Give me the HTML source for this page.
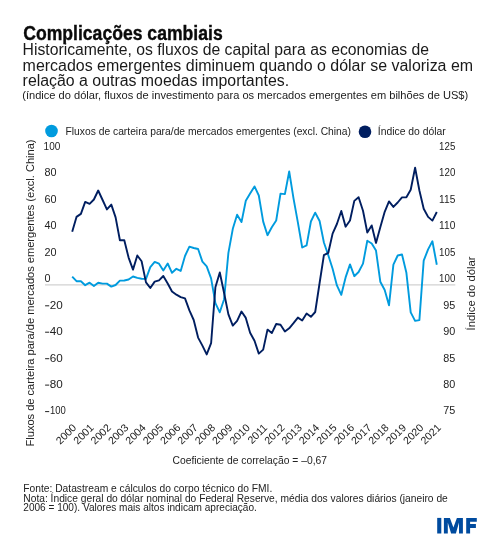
<!DOCTYPE html>
<html><head><meta charset="utf-8"><style>
html,body{margin:0;padding:0;background:#fff;width:500px;height:542px;overflow:hidden}
svg{display:block;will-change:transform}
text{font-family:"Liberation Sans", sans-serif}
</style></head><body>
<svg width="500" height="542" viewBox="0 0 500 542">
<text x="23.2" y="39.7" font-size="19.5" textLength="199.5" lengthAdjust="spacingAndGlyphs" font-weight="bold" fill="#0a0a0a" stroke="#0a0a0a" stroke-width="0.35">Complicações cambiais</text>
<text x="22.6" y="54.9" font-size="16" textLength="406.5" lengthAdjust="spacingAndGlyphs" fill="#1a1a1a" >Historicamente, os fluxos de capital para as economias de</text>
<text x="22.6" y="70.8" font-size="16" textLength="450.5" lengthAdjust="spacingAndGlyphs" fill="#1a1a1a" >mercados emergentes diminuem quando o dólar se valoriza em</text>
<text x="22.6" y="85.8" font-size="16" textLength="266.5" lengthAdjust="spacingAndGlyphs" fill="#1a1a1a" >relação a outras moedas importantes.</text>
<text x="22.2" y="98.6" font-size="10.5" textLength="446" lengthAdjust="spacingAndGlyphs" fill="#1a1a1a" >(índice do dólar, fluxos de investimento para os mercados emergentes em bilhões de US$)</text>
<circle cx="51.5" cy="131" r="6.3" fill="#009BDE"/>
<text x="65.5" y="135.2" font-size="11" textLength="285.5" lengthAdjust="spacingAndGlyphs" fill="#222" >Fluxos de carteira para/de mercados emergentes (excl. China)</text>
<circle cx="365" cy="131.8" r="6.3" fill="#001E60"/>
<text x="377.8" y="135.2" font-size="11" textLength="68" lengthAdjust="spacingAndGlyphs" fill="#222" >Índice do dólar</text>
<text x="43.6" y="149.8" font-size="10.8" textLength="16.7" lengthAdjust="spacingAndGlyphs" fill="#222" >100</text>
<text x="455.3" y="149.8" font-size="10.8" textLength="16.2" lengthAdjust="spacingAndGlyphs" text-anchor="end" fill="#222" >125</text>
<text x="44.5" y="176.3" font-size="10.8" fill="#222" >80</text>
<text x="455.3" y="176.3" font-size="10.8" textLength="16.2" lengthAdjust="spacingAndGlyphs" text-anchor="end" fill="#222" >120</text>
<text x="44.5" y="202.7" font-size="10.8" fill="#222" >60</text>
<text x="455.3" y="202.7" font-size="10.8" textLength="16.2" lengthAdjust="spacingAndGlyphs" text-anchor="end" fill="#222" >115</text>
<text x="44.5" y="229.2" font-size="10.8" fill="#222" >40</text>
<text x="455.3" y="229.2" font-size="10.8" textLength="16.2" lengthAdjust="spacingAndGlyphs" text-anchor="end" fill="#222" >110</text>
<text x="44.5" y="255.6" font-size="10.8" fill="#222" >20</text>
<text x="455.3" y="255.6" font-size="10.8" textLength="16.2" lengthAdjust="spacingAndGlyphs" text-anchor="end" fill="#222" >105</text>
<text x="44.5" y="282.1" font-size="10.8" fill="#222" >0</text>
<text x="455.3" y="282.1" font-size="10.8" textLength="16.2" lengthAdjust="spacingAndGlyphs" text-anchor="end" fill="#222" >100</text>
<rect x="45.1" y="305.3" width="4.1" height="1.0" fill="#222"/>
<text x="49.8" y="308.6" font-size="10.8" textLength="13.0" lengthAdjust="spacingAndGlyphs" fill="#222" >20</text>
<text x="455.3" y="308.6" font-size="10.8" text-anchor="end" fill="#222" >95</text>
<rect x="45.1" y="331.7" width="4.1" height="1.0" fill="#222"/>
<text x="49.8" y="335.0" font-size="10.8" textLength="13.0" lengthAdjust="spacingAndGlyphs" fill="#222" >40</text>
<text x="455.3" y="335.0" font-size="10.8" text-anchor="end" fill="#222" >90</text>
<rect x="45.1" y="358.2" width="4.1" height="1.0" fill="#222"/>
<text x="49.8" y="361.5" font-size="10.8" textLength="13.0" lengthAdjust="spacingAndGlyphs" fill="#222" >60</text>
<text x="455.3" y="361.5" font-size="10.8" text-anchor="end" fill="#222" >85</text>
<rect x="45.1" y="384.6" width="4.1" height="1.0" fill="#222"/>
<text x="49.8" y="387.9" font-size="10.8" textLength="13.0" lengthAdjust="spacingAndGlyphs" fill="#222" >80</text>
<text x="455.3" y="387.9" font-size="10.8" text-anchor="end" fill="#222" >80</text>
<rect x="45.1" y="411.1" width="4.1" height="1.0" fill="#222"/>
<text x="49.9" y="414.4" font-size="10.8" textLength="15.8" lengthAdjust="spacingAndGlyphs" fill="#222" >100</text>
<text x="455.3" y="414.4" font-size="10.8" text-anchor="end" fill="#222" >75</text>
<line x1="45" y1="284.8" x2="455.3" y2="284.8" stroke="#d2d2d2" stroke-width="1.2"/>
<polyline points="72.2,276.6 76.5,281.2 80.9,281.2 85.2,285.2 89.6,282.7 93.9,286.0 98.2,282.7 102.6,283.6 106.9,283.6 111.3,286.6 115.6,285.0 119.9,280.6 124.3,280.5 128.6,279.5 133.0,276.5 137.3,277.9 141.6,278.7 146.0,278.9 150.3,267.2 154.7,261.9 159.0,263.7 163.3,270.4 167.7,263.5 172.0,272.8 176.4,268.8 180.7,270.9 185.0,256.0 189.4,246.7 193.7,248.0 198.1,249.0 202.4,261.6 206.7,266.4 211.1,278.4 215.4,303.2 219.8,312.3 224.1,299.2 228.4,252.8 232.8,228.8 237.1,214.7 241.5,222.1 245.8,200.8 250.1,193.6 254.5,186.4 258.8,195.5 263.2,221.6 267.5,235.2 271.8,227.2 276.2,220.5 280.5,193.6 284.9,194.1 289.2,171.5 293.5,198.4 297.9,222.7 302.2,247.5 306.6,245.3 310.9,221.5 315.2,212.7 319.6,221.0 323.9,242.5 328.3,255.2 332.6,268.8 336.9,285.4 341.3,294.8 345.6,277.4 350.0,264.4 354.3,276.2 358.6,272.0 363.0,263.6 367.3,240.8 371.7,243.5 376.0,250.6 380.3,281.7 384.7,290.0 389.0,305.3 393.4,264.7 397.7,255.5 402.0,254.5 406.4,272.8 410.7,312.4 415.1,320.9 419.4,320.1 423.7,260.6 428.1,249.4 432.4,241.3 436.8,264.7" fill="none" stroke="#009BDE" stroke-width="1.9" stroke-linejoin="round"/>
<polyline points="72.2,231.8 76.5,216.9 80.9,213.9 85.2,201.9 89.6,203.8 93.9,199.5 98.2,190.5 102.6,200.0 106.9,209.4 111.3,204.6 115.6,217.4 119.9,240.3 124.3,240.3 128.6,257.6 133.0,269.6 137.3,255.5 141.6,261.3 146.0,282.4 150.3,288.0 154.7,281.6 159.0,280.3 163.3,276.0 167.7,283.5 172.0,291.5 176.4,294.7 180.7,297.1 185.0,298.4 189.4,310.4 193.7,320.0 198.1,337.6 202.4,345.6 206.7,354.4 211.1,343.2 215.4,287.2 219.8,272.5 224.1,293.0 228.4,314.4 232.8,325.6 237.1,320.8 241.5,311.5 245.8,317.9 250.1,332.8 254.5,340.8 258.8,353.6 263.2,349.6 267.5,329.6 271.8,333.1 276.2,324.0 280.5,324.8 284.9,331.5 289.2,328.3 293.5,323.2 297.9,317.6 302.2,320.5 306.6,313.6 310.9,316.8 315.2,312.0 319.6,283.0 323.9,255.2 328.3,252.8 332.6,233.6 336.9,224.0 341.3,211.0 345.6,226.7 350.0,220.5 354.3,200.9 358.6,197.2 363.0,210.8 367.3,232.5 371.7,225.4 376.0,242.9 380.3,227.2 384.7,211.8 389.0,201.4 393.4,206.9 397.7,202.5 402.0,197.4 406.4,197.3 410.7,189.8 415.1,167.7 419.4,190.5 423.7,208.7 428.1,216.9 432.4,220.6 436.8,212.0" fill="none" stroke="#001E60" stroke-width="1.9" stroke-linejoin="round"/>
<text x="0" y="0" font-size="10.6" text-anchor="end" fill="#222" transform="translate(77.0,428.3) rotate(-45)">2000</text>
<text x="0" y="0" font-size="10.6" text-anchor="end" fill="#222" transform="translate(94.4,428.3) rotate(-45)">2001</text>
<text x="0" y="0" font-size="10.6" text-anchor="end" fill="#222" transform="translate(111.7,428.3) rotate(-45)">2002</text>
<text x="0" y="0" font-size="10.6" text-anchor="end" fill="#222" transform="translate(129.1,428.3) rotate(-45)">2003</text>
<text x="0" y="0" font-size="10.6" text-anchor="end" fill="#222" transform="translate(146.4,428.3) rotate(-45)">2004</text>
<text x="0" y="0" font-size="10.6" text-anchor="end" fill="#222" transform="translate(163.8,428.3) rotate(-45)">2005</text>
<text x="0" y="0" font-size="10.6" text-anchor="end" fill="#222" transform="translate(181.2,428.3) rotate(-45)">2006</text>
<text x="0" y="0" font-size="10.6" text-anchor="end" fill="#222" transform="translate(198.5,428.3) rotate(-45)">2007</text>
<text x="0" y="0" font-size="10.6" text-anchor="end" fill="#222" transform="translate(215.9,428.3) rotate(-45)">2008</text>
<text x="0" y="0" font-size="10.6" text-anchor="end" fill="#222" transform="translate(233.2,428.3) rotate(-45)">2009</text>
<text x="0" y="0" font-size="10.6" text-anchor="end" fill="#222" transform="translate(250.6,428.3) rotate(-45)">2010</text>
<text x="0" y="0" font-size="10.6" text-anchor="end" fill="#222" transform="translate(268.0,428.3) rotate(-45)">2011</text>
<text x="0" y="0" font-size="10.6" text-anchor="end" fill="#222" transform="translate(285.3,428.3) rotate(-45)">2012</text>
<text x="0" y="0" font-size="10.6" text-anchor="end" fill="#222" transform="translate(302.7,428.3) rotate(-45)">2013</text>
<text x="0" y="0" font-size="10.6" text-anchor="end" fill="#222" transform="translate(320.0,428.3) rotate(-45)">2014</text>
<text x="0" y="0" font-size="10.6" text-anchor="end" fill="#222" transform="translate(337.4,428.3) rotate(-45)">2015</text>
<text x="0" y="0" font-size="10.6" text-anchor="end" fill="#222" transform="translate(354.8,428.3) rotate(-45)">2016</text>
<text x="0" y="0" font-size="10.6" text-anchor="end" fill="#222" transform="translate(372.1,428.3) rotate(-45)">2017</text>
<text x="0" y="0" font-size="10.6" text-anchor="end" fill="#222" transform="translate(389.5,428.3) rotate(-45)">2018</text>
<text x="0" y="0" font-size="10.6" text-anchor="end" fill="#222" transform="translate(406.8,428.3) rotate(-45)">2019</text>
<text x="0" y="0" font-size="10.6" text-anchor="end" fill="#222" transform="translate(424.2,428.3) rotate(-45)">2020</text>
<text x="0" y="0" font-size="10.6" text-anchor="end" fill="#222" transform="translate(441.6,428.3) rotate(-45)">2021</text>
<text x="0" y="0" font-size="11.8" textLength="307" lengthAdjust="spacingAndGlyphs" fill="#222" transform="translate(34,446.5) rotate(-90)">Fluxos de carteira para/de mercados emergentes (excl. China)</text>
<text x="0" y="0" font-size="11.8" textLength="74" lengthAdjust="spacingAndGlyphs" fill="#222" transform="translate(474.9,330.4) rotate(-90)">Índice do dólar</text>
<text x="172.5" y="464.1" font-size="10.8" textLength="154.5" lengthAdjust="spacingAndGlyphs" fill="#222" >Coeficiente de correlação = –0,67</text>
<text x="23.3" y="491.6" font-size="10.4" textLength="249" lengthAdjust="spacingAndGlyphs" fill="#222" >Fonte: Datastream e cálculos do corpo técnico do FMI.</text>
<text x="23.3" y="501.5" font-size="10.4" textLength="424.5" lengthAdjust="spacingAndGlyphs" fill="#222" >Nota: Índice geral do dólar nominal do Federal Reserve, média dos valores diários (janeiro de</text>
<text x="23.3" y="511.2" font-size="10.4" textLength="233.5" lengthAdjust="spacingAndGlyphs" fill="#222" >2006 = 100). Valores mais altos indicam apreciação.</text>
<g fill="#004B9F"><rect x="437.2" y="517.9" width="4.1" height="15.6"/><polygon points="443.9,533.5 443.9,517.9 449.9,517.9 453.4,527.6 456.9,517.9 462.9,517.9 462.9,533.5 459,533.5 459,522.4 455.9,533.5 451.1,533.5 447.8,522.4 447.8,533.5"/><polygon points="466.2,533.5 466.2,517.9 476.8,517.9 476.8,521.7 470.1,521.7 470.1,524.1 475.9,524.1 475.9,527.9 470.1,527.9 470.1,533.5"/></g>
</svg>
</body></html>
